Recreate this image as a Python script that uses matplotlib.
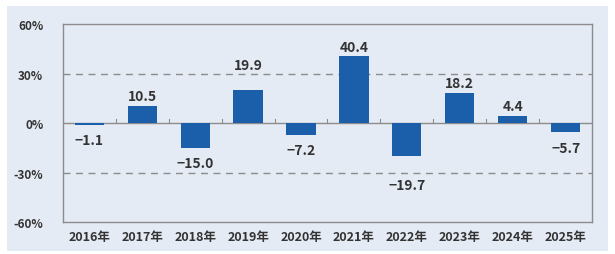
import matplotlib
matplotlib.use('Agg')
import matplotlib.pyplot as plt
from matplotlib.patches import Rectangle

plt.rcParams['font.family'] = ['Noto Sans CJK JP', 'DejaVu Sans']

# データ
years = ['2016年', '2017年', '2018年', '2019年', '2020年',
         '2021年', '2022年', '2023年', '2024年', '2025年']
growth = [-1.1, 10.5, -15.0, 19.9, -7.2, 40.4, -19.7, 18.2, 4.4, -5.7]
y_ticks = [-60, -30, 0, 30, 60]
y_tick_labels = ['-60%', '-30%', '0%', '30%', '60%']

BG = '#e5ebf4'
BAR = '#1b5ea9'
TXT = '#333333'

fig = plt.figure(figsize=(6.15, 2.55), dpi=100, facecolor='white')
fig.patches.append(Rectangle((0.011, 0.012), 0.978, 0.96, transform=fig.transFigure,
                             facecolor=BG, edgecolor='none', zorder=-10))
ax = fig.add_axes([0.102, 0.125, 0.861, 0.777])
ax.set_facecolor(BG)

x = list(range(len(years)))
ax.bar(x, growth, width=0.55, color=BAR, zorder=3)

ax.set_xlim(-0.5, len(years) - 0.5)
ax.set_ylim(-60, 60)
ax.set_yticks(y_ticks)
ax.set_yticklabels(y_tick_labels, fontweight='bold')
ax.set_xticks(x)
ax.set_xticklabels(years, fontweight='bold')
ax.tick_params(axis='both', length=0, colors=TXT)
ax.tick_params(axis='y', labelsize=8.5, pad=14)
ax.tick_params(axis='x', labelsize=9, pad=6)

for v in (30, -30):
    ax.axhline(v, color='#8c8c8c', lw=1, ls=(0, (5, 4)), zorder=1)
ax.axhline(0, color='#8c8c8c', lw=1, zorder=2)

# 0%線上の区切り目盛
for b in range(1, len(years)):
    ax.plot([b - 0.5, b - 0.5], [0, 2.5], color='#8c8c8c', lw=0.8, zorder=2)

for s in ax.spines.values():
    s.set_color('#8c8c8c')
    s.set_linewidth(1)

# 値ラベル（破線と重なるものは少しずらす）
extra = [0, 0, 0, 11, 0, 0, 10, 0, 0, 0]
for xi, v, e in zip(x, growth, extra):
    if v >= 0:
        ax.annotate(f'{v:.1f}', (xi, v), xytext=(0, 2 + e), textcoords='offset points',
                    ha='center', va='bottom', fontsize=10, color=TXT, fontweight='bold')
    else:
        lab = f'\u2212{abs(v):.1f}'
        ax.annotate(lab, (xi, v), xytext=(0, -6 - e), textcoords='offset points',
                    ha='center', va='top', fontsize=10, color=TXT, fontweight='bold')

fig.savefig('out.png', dpi=100, facecolor='white')
